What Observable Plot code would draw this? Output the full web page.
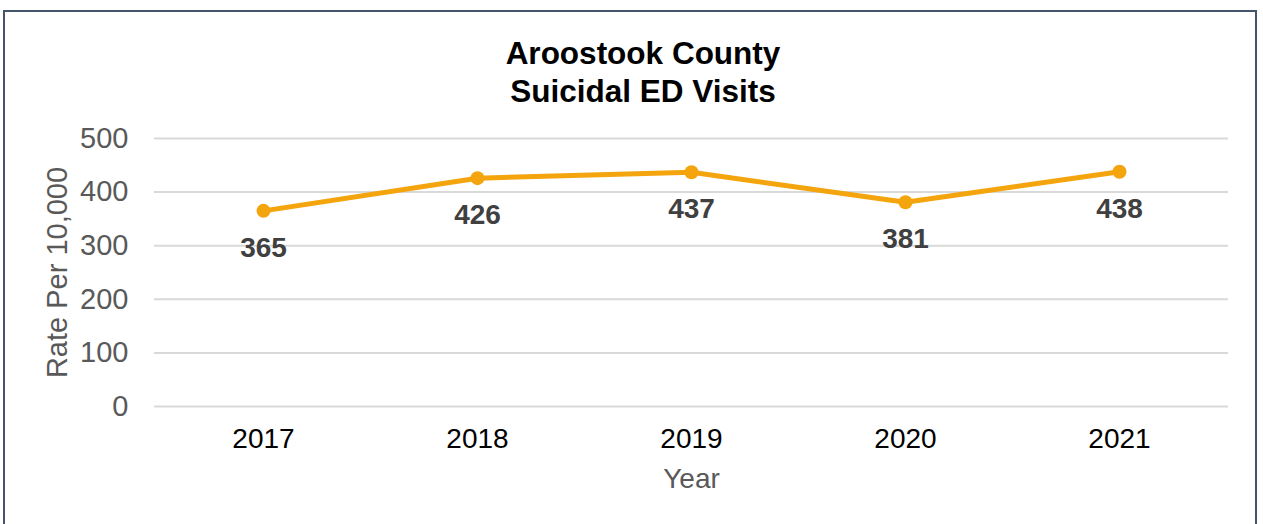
<!DOCTYPE html>
<html>
<head>
<meta charset="utf-8">
<script src="https://cdn.jsdelivr.net/npm/d3@7"></script>
<script src="https://cdn.jsdelivr.net/npm/@observablehq/plot@0.6"></script>
<style>
  html, body { margin: 0; padding: 0; background: #fff; width: 1263px; height: 524px; overflow: hidden; }
  #frame { position: absolute; left: 3px; top: 10px; width: 1250px; height: 600px; border: 2px solid #44546A; }
  #title { position: absolute; left: 0; width: 1286px; top: 34px; text-align: center; font-family: "Liberation Sans", Arial, sans-serif; font-weight: bold; font-size: 31.5px; line-height: 38px; color: #000; }
  #chart { position: absolute; left: 0; top: 0; }
</style>
</head>
<body>
<div id="frame"></div>
<div id="title">Aroostook County<br>Suicidal ED Visits</div>
<div id="chart"></div>
<script>
const years = ["2017", "2018", "2019", "2020", "2021"];
const rates = [365, 426, 437, 381, 438];
const yTicks = [0, 100, 200, 300, 400, 500];

const data = years.map((y, i) => ({year: y, rate: rates[i]}));
const font = "'Liberation Sans', Arial, sans-serif";
const gold = "#F4A40C";

const chart = Plot.plot({
  width: 1263,
  height: 524,
  marginLeft: 154,
  marginRight: 35,
  marginTop: 138,
  marginBottom: 118,
  style: {fontFamily: font, background: "transparent", overflow: "visible"},
  x: {type: "point", domain: years, padding: 0.5},
  y: {domain: [0, 500]},
  marks: [
    Plot.ruleY(yTicks, {stroke: "#d9d9d9", strokeWidth: 2}),
    Plot.axisY(yTicks, {tickSize: 0, tickPadding: 26, fontSize: 29, fill: "#595959", label: null}),
    Plot.axisX(years, {tickSize: 0, tickPadding: 22, fontSize: 28, fill: "#000", label: null}),
    Plot.line(data, {x: "year", y: "rate", stroke: gold, strokeWidth: 5}),
    Plot.dot(data, {x: "year", y: "rate", r: 7, fill: gold, stroke: null}),
    Plot.text(data, {x: "year", y: "rate", text: d => String(d.rate), dy: 37, fontSize: 28, fontWeight: "bold", fill: "#404040"}),
    Plot.text(["Year"], {frameAnchor: "bottom", lineAnchor: "middle", dy: 73, fontSize: 28, fill: "#595959"}),
    Plot.text(["Rate Per 10,000"], {frameAnchor: "left", textAnchor: "middle", lineAnchor: "middle", dx: -97, rotate: -90, fontSize: 29, fill: "#595959"})
  ]
});
document.getElementById("chart").appendChild(chart);
</script>
</body>
</html>
